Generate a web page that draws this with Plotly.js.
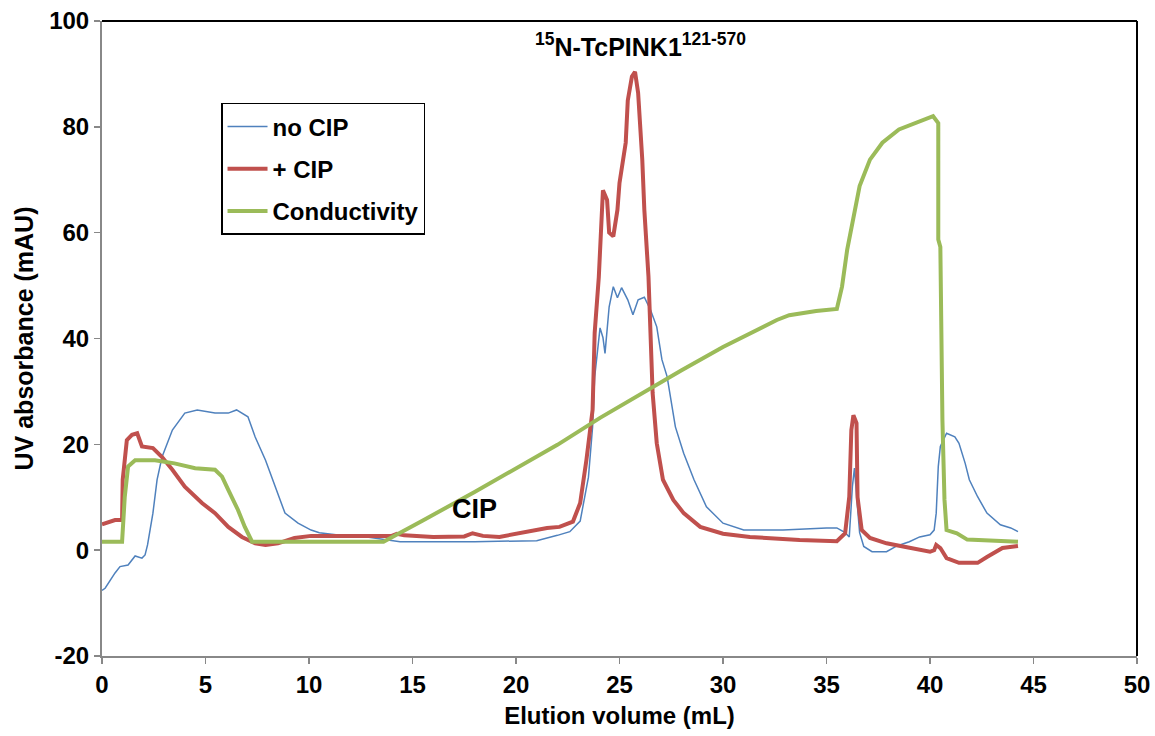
<!DOCTYPE html>
<html>
<head>
<meta charset="utf-8">
<script src="https://cdn.plot.ly/plotly-3.0.1.min.js"></script>
<style>html,body{margin:0;padding:0;background:#fff;}#chart{width:1155px;height:736px;}</style>
</head>
<body>
<div id="chart"></div>
<script>
// no CIP (blue)
const noCipX = [0,0.15,0.63,0.87,1.26,1.6,1.93,2.08,2.2,2.46,2.66,2.9,3.4,4.0,4.6,5.46,6.1,6.5,7.05,7.4,7.9,8.36,8.84,9.47,10.1,10.5,11.5,12.8,14.4,18,21,22,22.6,23.1,23.5,23.7,23.8,24.06,24.2,24.3,24.4,24.5,24.7,24.9,25.1,25.4,25.65,25.9,26.2,26.5,26.8,27.05,27.3,27.7,28.1,28.6,29.2,30,31,32.9,35,35.5,35.9,36.1,36.25,36.35,36.5,36.6,36.8,37.2,37.9,38.4,39,39.5,40,40.2,40.3,40.4,40.5,40.8,41.2,41.4,41.7,41.9,42.3,42.75,43.4,43.9,44.25];
const noCipY = [-7.6,-7.2,-4.3,-3.1,-2.8,-1.1,-1.5,-0.9,1,7,13.3,17.6,22.7,25.9,26.5,25.9,25.9,26.5,25.2,21.4,17,12,7,5.1,3.8,3.3,2.8,2.5,1.6,1.6,1.8,2.8,3.5,5.5,13.8,23.3,32.7,42,40.2,37.2,42.2,46,49.8,47.7,49.6,47.3,44.5,47.3,47.8,45.4,42.2,36,32.8,23.3,18.3,13.3,8.2,5.1,3.8,3.8,4.2,4.2,3.3,2.5,12,15.5,8,3.3,0.7,-0.3,-0.3,0.8,1.6,2.5,2.9,3.8,7,15.8,19.6,22.1,21.4,20.2,16.4,13.3,10.1,7,4.8,4.2,3.5];
// + CIP (red)
const cipX = [0,0.63,0.97,1.0,1.2,1.45,1.7,1.93,2.46,2.9,3.4,4,4.83,5.46,6.1,6.76,7.4,7.9,8.5,9.3,10.1,14.0,14.25,14.6,16,17.5,17.9,18.4,19.2,20.8,21.5,22.1,22.75,23.1,23.4,23.7,23.8,24,24.15,24.2,24.4,24.5,24.7,24.9,25.0,25.3,25.4,25.6,25.75,25.9,26.1,26.2,26.4,26.5,26.6,26.8,27.1,27.6,28.1,28.9,30,31.3,33.7,35.5,35.9,36.1,36.2,36.3,36.45,36.5,36.7,37.1,37.9,38.7,39.5,40,40.2,40.3,40.5,40.8,41.4,42.3,42.75,43.5,44.25];
const cipY = [4.9,5.7,5.7,13.3,20.8,21.8,22.1,19.6,19.3,17.6,15.2,12,8.9,7,4.4,2.5,1.3,1.0,1.3,2.3,2.7,2.7,3.1,2.8,2.5,2.6,3.2,2.7,2.5,3.8,4.2,4.4,5.4,8.9,17,26.5,41,51.6,64.3,68,66.2,60,59.3,64.3,69.4,77,85,89.5,90.4,86.4,73.8,64.3,51.7,39.1,29.7,20.2,13.3,9.5,7,4.4,3.1,2.5,1.9,1.7,3.2,10.1,22.7,25.5,24,10,3.8,2.3,1.3,0.7,0,-0.3,0,1,0.4,-1.5,-2.4,-2.4,-1.3,0.4,0.8];
// Conductivity (green)
const condX = [0,0.97,1.1,1.26,1.6,2.56,3.5,4.5,5.46,5.8,6.1,6.57,6.9,7.25,13.6,14.4,15.5,18,20,22,24.06,26.5,28,30,32,32.6,33.2,34.5,35.5,35.75,36,36.3,36.6,37.1,37.7,38.5,39.5,40.15,40.4,40.4,40.5,40.6,40.7,40.8,41.3,41.8,44.25];
const condY = [1.6,1.6,10.1,15.8,17,17,16.4,15.5,15.2,13.9,11.4,7.6,4.4,1.6,1.6,3.2,5.6,11,15.4,19.9,25,30.7,34,38.4,42.2,43.5,44.4,45.2,45.6,49.8,56.8,63.1,68.8,73.8,77,79.5,81,82,80.7,58.7,57.3,24.6,9.5,3.8,3.2,2.0,1.6];

const xTicks = [0,5,10,15,20,25,30,35,40,45,50];
const yTicks = [-20,0,20,40,60,80,100];

const FONT = 'Arial, "Liberation Sans", sans-serif';

const traces = [
  {x: noCipX, y: noCipY, name: 'no CIP', mode: 'lines', legendgroup: 'a',
   line: {color: '#4F81BD', width: 1.5}},
  {x: cipX, y: cipY, name: '+ CIP', mode: 'lines', legendgroup: 'b',
   line: {color: '#C0504D', width: 4}},
  {x: condX, y: condY, name: 'Conductivity', mode: 'lines', legendgroup: 'c',
   line: {color: '#9BBB59', width: 4}}
];

const layout = {
  width: 1155, height: 736,
  margin: {l: 102, r: 18, t: 21, b: 80},
  paper_bgcolor: '#fff', plot_bgcolor: '#fff',
  font: {family: FONT, size: 24, color: '#000'},
  showlegend: true,
  legend: {x: 0.115, y: 0.871, xanchor: 'left', yanchor: 'top',
    bordercolor: '#000', borderwidth: 1.5, bgcolor: '#fff',
    font: {family: FONT, size: 24, color: '#000', weight: 'bold'},
    tracegroupgap: 8, itemwidth: 40},
  xaxis: {range: [0, 50], tickvals: xTicks, ticktext: xTicks.map(String),
    showgrid: false, zeroline: false, showline: true, linecolor: '#888', linewidth: 2,
    ticks: 'outside', ticklen: 6, tickcolor: '#888', tickwidth: 1.5,
    tickfont: {family: FONT, size: 24, weight: 'bold'},
    title: {text: '<b>Elution volume (mL)</b>', font: {family: FONT, size: 24}, standoff: 10}},
  yaxis: {range: [-20, 100], tickvals: yTicks, ticktext: yTicks.map(String),
    showgrid: false, zeroline: false, showline: true, linecolor: '#888', linewidth: 2,
    ticks: 'outside', ticklen: 6, tickcolor: '#888', tickwidth: 1.5,
    tickfont: {family: FONT, size: 24, weight: 'bold'},
    title: {text: '<b>UV absorbance (mAU)</b>', font: {family: FONT, size: 25}, standoff: 8}},
  shapes: [
    {type: 'line', xref: 'paper', yref: 'paper', x0: 0, x1: 1, y0: 1, y1: 1, line: {color: '#000', width: 2}},
    {type: 'line', xref: 'paper', yref: 'paper', x0: 1, x1: 1, y0: 0, y1: 1, line: {color: '#000', width: 2}}
  ],
  annotations: [
    {x: 26, y: 95.5, xref: 'x', yref: 'y', showarrow: false,
     text: '<b><sup>15</sup>N-TcPINK1<sup>121-570</sup></b>', font: {family: FONT, size: 25, color: '#000'}},
    {x: 18, y: 7.8, xref: 'x', yref: 'y', showarrow: false,
     text: '<b>CIP</b>', font: {family: FONT, size: 27, color: '#000'}}
  ]
};

Plotly.newPlot('chart', traces, layout, {displayModeBar: false, staticPlot: true});
</script>
</body>
</html>
